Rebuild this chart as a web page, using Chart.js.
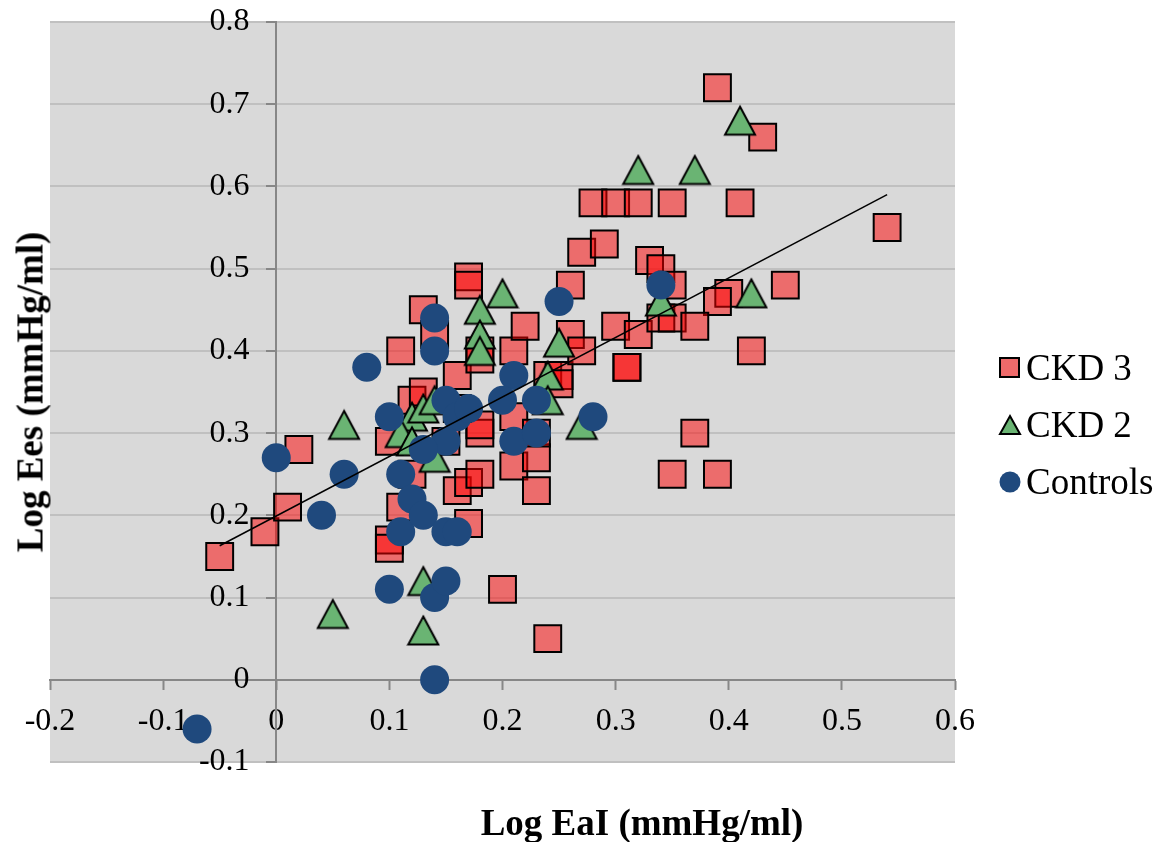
<!DOCTYPE html>
<html>
<head>
<meta charset="utf-8">
<script src="https://cdn.jsdelivr.net/npm/chart.js@4/dist/chart.umd.min.js"></script>
<style>
  body { margin: 0; background: #fff; }
  #wrap { position: relative; width: 1168px; height: 842px; font-family: "Liberation Serif", "Times New Roman", serif; }
  canvas#chart { position: absolute; left: 0; top: 0; }
  .ytitle { position: absolute; left: 30px; top: 392px; transform: translate(-50%, -50%) rotate(-90deg); font-weight: bold; font-size: 37px; white-space: nowrap; }
  .xtitle { position: absolute; left: 642px; top: 822px; transform: translate(-50%, -50%); font-weight: bold; font-size: 37px; white-space: nowrap; }
  .legend { position: absolute; left: 998px; top: 339px; font-size: 37px; }
  .legend div { height: 57px; line-height: 44px; display: flex; align-items: center; }
  .legend span.mk { display: inline-block; width: 24px; margin-right: 4px; }
</style>
</head>
<body>
<div id="wrap">
  <canvas id="chart" width="1168" height="842"></canvas>
  <div class="ytitle">Log Ees (mmHg/ml)</div>
  <div class="xtitle">Log EaI (mmHg/ml)</div>
  <div class="legend">
    <div><span class="mk"><svg width="24" height="24"><rect x="2" y="2" width="19" height="19" fill="#ee6a6a" stroke="#000" stroke-width="2"/></svg></span>CKD 3</div>
    <div><span class="mk"><svg width="24" height="24"><polygon points="12,3 22,21 2,21" fill="#6ab473" stroke="#000" stroke-width="2"/></svg></span>CKD 2</div>
    <div><span class="mk"><svg width="24" height="24"><circle cx="12" cy="12" r="10.5" fill="#1f497d"/></svg></span>Controls</div>
  </div>
</div>
<script>
// CKD 3 (squares)
const ckd3X = [-0.05, -0.01, 0.01, 0.02, 0.10, 0.10, 0.10, 0.11, 0.11, 0.13, 0.12, 0.13, 0.12, 0.14,
  0.16, 0.17, 0.17, 0.18, 0.18, 0.16, 0.17, 0.18, 0.17, 0.18, 0.18, 0.16, 0.15, 0.20, 0.24,
  0.21, 0.22, 0.21, 0.21, 0.23, 0.23, 0.23, 0.24, 0.25, 0.25, 0.26, 0.27, 0.26, 0.27, 0.29,
  0.28, 0.30, 0.32, 0.35, 0.41, 0.39, 0.43, 0.54, 0.33, 0.34, 0.35, 0.45, 0.40, 0.39,
  0.30, 0.32, 0.34, 0.35, 0.37, 0.42, 0.31, 0.31, 0.37, 0.35, 0.39];
const ckd3Y = [0.15, 0.18, 0.21, 0.28, 0.29, 0.17, 0.16, 0.40, 0.21, 0.45, 0.34, 0.35, 0.25, 0.42,
  0.37, 0.49, 0.48, 0.40, 0.39, 0.23, 0.24, 0.25, 0.19, 0.30, 0.31, 0.33, 0.29, 0.11, 0.05,
  0.40, 0.43, 0.26, 0.32, 0.27, 0.30, 0.23, 0.37, 0.37, 0.36, 0.42, 0.40, 0.48, 0.52, 0.53,
  0.58, 0.58, 0.58, 0.58, 0.58, 0.72, 0.66, 0.55, 0.51, 0.50, 0.48, 0.48, 0.47, 0.46,
  0.43, 0.42, 0.44, 0.44, 0.43, 0.40, 0.38, 0.38, 0.30, 0.25, 0.25];

// CKD 2 (triangles)
const ckd2X = [0.41, 0.32, 0.37, 0.42, 0.34, 0.20, 0.18, 0.18, 0.18, 0.25, 0.24, 0.24,
  0.27, 0.06, 0.05, 0.13, 0.13, 0.12, 0.13, 0.11, 0.12, 0.14, 0.14];
const ckd2Y = [0.68, 0.62, 0.62, 0.47, 0.46, 0.47, 0.45, 0.42, 0.40, 0.41, 0.37, 0.34,
  0.31, 0.31, 0.08, 0.12, 0.06, 0.32, 0.33, 0.30, 0.29, 0.27, 0.34];

// Controls (circles)
const ctrlX = [-0.07, 0.00, 0.06, 0.04, 0.08, 0.10, 0.10, 0.11, 0.11, 0.12, 0.13, 0.14, 0.14,
  0.14, 0.15, 0.14, 0.15, 0.16, 0.15, 0.16, 0.17, 0.15, 0.13, 0.25, 0.21, 0.23, 0.20,
  0.28, 0.21, 0.23, 0.34];
const ctrlY = [-0.06, 0.27, 0.25, 0.20, 0.38, 0.32, 0.11, 0.25, 0.18, 0.22, 0.20, 0.44, 0.40,
  0.10, 0.12, 0.00, 0.18, 0.18, 0.34, 0.32, 0.33, 0.29, 0.28, 0.46, 0.37, 0.34, 0.34,
  0.32, 0.29, 0.30, 0.48];

// linear trend line ends
const trendX = [-0.05, 0.54];
const trendY = [0.163, 0.59];

const pts = (xs, ys) => xs.map((x, i) => ({ x: x, y: ys[i] }));

const serif = "'Liberation Serif', 'Times New Roman', serif";

// Excel-like triangle marker, centred on its bounding box
function triangleMarker() {
  const c = document.createElement("canvas");
  c.width = 34;
  c.height = 33;
  const g = c.getContext("2d");
  g.beginPath();
  g.moveTo(17, 2.5);
  g.lineTo(32, 30.5);
  g.lineTo(2, 30.5);
  g.closePath();
  g.fillStyle = "#6ab473";
  g.fill();
  g.lineWidth = 2;
  g.lineJoin = "miter";
  g.strokeStyle = "#000";
  g.stroke();
  return c;
}

// grey plot area
const plotBg = {
  id: "plotBg",
  beforeDraw(chart) {
    const a = chart.chartArea;
    const ctx = chart.ctx;
    ctx.save();
    ctx.fillStyle = "#d9d9d9";
    ctx.fillRect(a.left, a.top, a.right - a.left, a.bottom - a.top);
    ctx.restore();
  },
};

new Chart(document.getElementById("chart"), {
  type: "scatter",
  data: {
    datasets: [
      {
        label: "Trend",
        type: "line",
        data: pts(trendX, trendY),
        borderColor: "#000",
        borderWidth: 1.5,
        pointRadius: 0,
        order: 0,
      },
      {
        label: "Controls",
        data: pts(ctrlX, ctrlY),
        pointStyle: "circle",
        pointRadius: 14.5,
        pointHoverRadius: 14.5,
        backgroundColor: "#1f497d",
        borderWidth: 0,
        order: 1,
      },
      {
        label: "CKD 2",
        data: pts(ckd2X, ckd2Y),
        pointStyle: triangleMarker(),
        pointRadius: 16,
        backgroundColor: "#6ab473",
        borderColor: "#000",
        order: 2,
      },
      {
        label: "CKD 3",
        data: pts(ckd3X, ckd3Y),
        pointStyle: "rect",
        pointRadius: 19,
        pointHoverRadius: 19,
        backgroundColor: "rgba(255, 0, 0, 0.5)",
        borderColor: "#000",
        borderWidth: 2,
        order: 3,
      },
    ],
  },
  options: {
    responsive: false,
    animation: false,
    devicePixelRatio: 1,
    layout: { padding: { left: 50, right: 213, top: 22, bottom: 80 } },
    plugins: { legend: { display: false }, tooltip: { enabled: false } },
    scales: {
      x: {
        type: "linear",
        min: -0.2,
        max: 0.6,
        position: { y: 0 },
        ticks: { stepSize: 0.1, color: "#000", font: { family: serif, size: 32 }, padding: 14 },
        grid: { drawOnChartArea: false, tickLength: 9, tickColor: "#878787", tickWidth: 2 },
        border: { color: "#878787", width: 2 },
      },
      y: {
        type: "linear",
        min: -0.1,
        max: 0.8,
        position: { x: 0 },
        afterFit(scale) {
          // labels sit beside the crossing axis, so no extra room is needed above/below
          scale.paddingTop = 0;
          scale.paddingBottom = 0;
        },
        ticks: {
          stepSize: 0.1,
          color: "#000",
          font: { family: serif, size: 32 },
          // keep the labels clear of the axis line and its tick marks
          callback: (v) => Math.round(v * 10) / 10 + "   \u200A",
        },
        grid: {
          color: (c) => (c.tick && c.tick.value === 0 ? "rgba(0,0,0,0)" : "#c0c0c0"),
          lineWidth: 2,
          tickLength: 9,
          tickColor: "#878787",
          tickWidth: 2,
        },
        border: { color: "#878787", width: 2 },
      },
    },
  },
  plugins: [plotBg],
});
</script>
</body>
</html>
